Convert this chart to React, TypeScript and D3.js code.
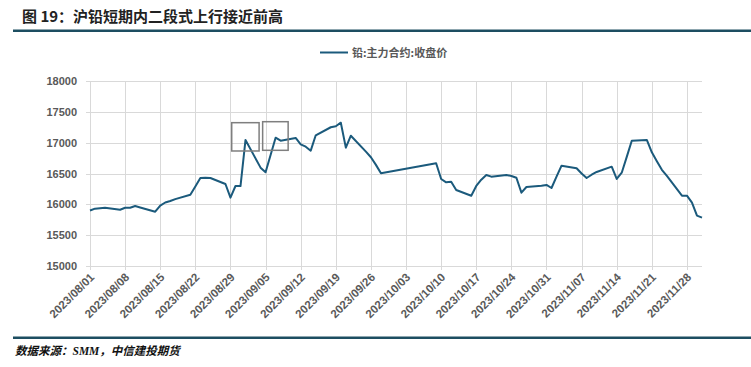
import * as d3 from "d3";
import { useEffect, useRef } from "react";

// 铅:主力合约:收盘价 (SMM), trading days only
const dates = [
  "2023-08-01", "2023-08-02", "2023-08-03", "2023-08-04", "2023-08-07", "2023-08-08", "2023-08-09",
  "2023-08-10", "2023-08-11", "2023-08-14", "2023-08-15", "2023-08-16", "2023-08-17", "2023-08-18",
  "2023-08-21", "2023-08-22", "2023-08-23", "2023-08-24", "2023-08-25", "2023-08-28", "2023-08-29",
  "2023-08-30", "2023-08-31", "2023-09-01", "2023-09-04", "2023-09-05", "2023-09-06", "2023-09-07",
  "2023-09-08", "2023-09-11", "2023-09-12", "2023-09-13", "2023-09-14", "2023-09-15", "2023-09-18",
  "2023-09-19", "2023-09-20", "2023-09-21", "2023-09-22", "2023-09-25", "2023-09-26", "2023-09-27",
  "2023-09-28", "2023-10-09", "2023-10-10", "2023-10-11", "2023-10-12", "2023-10-13", "2023-10-16",
  "2023-10-17", "2023-10-18", "2023-10-19", "2023-10-20", "2023-10-23", "2023-10-24", "2023-10-25",
  "2023-10-26", "2023-10-27", "2023-10-30", "2023-10-31", "2023-11-01", "2023-11-02", "2023-11-03",
  "2023-11-06", "2023-11-07", "2023-11-08", "2023-11-09", "2023-11-10", "2023-11-13", "2023-11-14",
  "2023-11-15", "2023-11-16", "2023-11-17", "2023-11-20", "2023-11-21", "2023-11-22", "2023-11-23",
  "2023-11-24", "2023-11-27", "2023-11-28", "2023-11-29", "2023-11-30", "2023-12-01",
];

const closePrices = [
  15900, 15930, 15938, 15945, 15913, 15945, 15945,
  15973, 15950, 15880, 15980, 16030, 16054, 16085,
  16156, 16290, 16427, 16430, 16427, 16330, 16108,
  16297, 16297, 17044, 16595, 16520, 16800, 17081,
  17032, 17076, 16973, 16935, 16870, 17120, 17250,
  17266, 17324, 16919, 17113, 16854, 16763, 16640,
  16503, 16666, 16411, 16357, 16367, 16233, 16140,
  16298, 16400, 16476, 16449, 16476, 16460, 16432,
  16189, 16281, 16300, 16314, 16265, 16450, 16627,
  16585, 16500, 16427, 16480, 16525, 16611, 16411,
  16513, 16770, 17032, 17044, 16844, 16700, 16560,
  16460, 16140, 16140, 16027, 15816, 15784,
];

const tickLabels = [
  "2023/08/01", "2023/08/08", "2023/08/15", "2023/08/22", "2023/08/29", "2023/09/05",
  "2023/09/12", "2023/09/19", "2023/09/26", "2023/10/03", "2023/10/10", "2023/10/17",
  "2023/10/24", "2023/10/31", "2023/11/07", "2023/11/14", "2023/11/21", "2023/11/28",
];

const yTicks = [15000, 15500, 16000, 16500, 17000, 17500, 18000];

// highlight boxes: [start date, end date, low, high]
const boxes: [string, string, number, number][] = [
  ["2023-08-29T06:00", "2023-09-03T17:00", 16865, 17324],
  ["2023-09-04T10:00", "2023-09-09T12:00", 16876, 17340],
];

const seriesName = "铅:主力合约:收盘价";
const title = "图 19：沪铅短期内二段式上行接近前高";
const source = "数据来源：SMM，中信建投期货";

const W = 751;
const H = 367;
const lineColor = "#1b5a7c";
const barColor = "#1d4e61";
const textColor = "#595959";
const numFont = "'Liberation Sans', Arial, sans-serif";
const cjkFont = "'Noto Sans CJK SC', sans-serif";

export default function App() {
  const ref = useRef<SVGSVGElement>(null);

  useEffect(() => {
    const svg = d3.select(ref.current);
    svg.selectAll("*").remove();

    const parse = d3.timeParse("%Y-%m-%d");
    const parseT = d3.timeParse("%Y-%m-%dT%H:%M");
    const parseTick = d3.timeParse("%Y/%m/%d");
    const data = dates.map((d, i) => ({ date: parse(d) as Date, value: closePrices[i] }));

    const x = d3
      .scaleTime()
      .domain([parse("2023-08-01") as Date, parse("2023-12-01") as Date])
      .range([90, 702]);
    const y = d3.scaleLinear().domain([15000, 18000]).range([266, 81]);

    // header
    svg
      .append("text")
      .attr("x", 22)
      .attr("y", 21.5)
      .attr("font-family", cjkFont)
      .attr("font-weight", "bold")
      .attr("font-size", 15)
      .attr("fill", "#222")
      .text(title);
    svg.append("rect").attr("x", 13).attr("y", 29.5).attr("width", W - 13).attr("height", 2.5).attr("fill", barColor);

    // grid
    const g = svg.append("g");
    g.selectAll(".hgrid")
      .data(yTicks)
      .enter()
      .append("line")
      .attr("x1", 90)
      .attr("x2", 702)
      .attr("y1", (d) => Math.round(y(d)) + 0.5)
      .attr("y2", (d) => Math.round(y(d)) + 0.5)
      .attr("stroke", "#d9d9d9");
    g.selectAll(".ytick")
      .data(yTicks)
      .enter()
      .append("line")
      .attr("x1", 86)
      .attr("x2", 90)
      .attr("y1", (d) => Math.round(y(d)) + 0.5)
      .attr("y2", (d) => Math.round(y(d)) + 0.5)
      .attr("stroke", "#d9d9d9");

    const tickDates = tickLabels.map((t) => parseTick(t) as Date);
    g.selectAll(".vgrid")
      .data(tickDates)
      .enter()
      .append("line")
      .attr("x1", (d) => Math.round(x(d)) + 0.5)
      .attr("x2", (d) => Math.round(x(d)) + 0.5)
      .attr("y1", 81)
      .attr("y2", 270)
      .attr("stroke", "#d9d9d9");

    // y labels
    g.selectAll(".ylab")
      .data(yTicks)
      .enter()
      .append("text")
      .attr("x", 77)
      .attr("y", (d) => y(d) + 4)
      .attr("text-anchor", "end")
      .attr("font-family", numFont)
      .attr("font-weight", "bold")
      .attr("font-size", 11)
      .attr("fill", textColor)
      .text((d) => d);

    // x labels
    g.selectAll(".xlab")
      .data(tickLabels)
      .enter()
      .append("text")
      .attr("transform", (d, i) => `translate(${x(tickDates[i]) + 5},${278}) rotate(-45)`)
      .attr("text-anchor", "end")
      .attr("font-family", numFont)
      .attr("font-weight", "bold")
      .attr("font-size", 11.5)
      .attr("fill", textColor)
      .text((d) => d);

    // series
    const line = d3
      .line<{ date: Date; value: number }>()
      .x((d) => x(d.date))
      .y((d) => y(d.value));
    svg
      .append("path")
      .datum(data)
      .attr("d", line)
      .attr("fill", "none")
      .attr("stroke", lineColor)
      .attr("stroke-width", 2)
      .attr("stroke-linejoin", "round");

    // highlight boxes
    svg
      .selectAll(".hbox")
      .data(boxes)
      .enter()
      .append("rect")
      .attr("x", (d) => x(parseT(d[0]) as Date))
      .attr("y", (d) => y(d[3]))
      .attr("width", (d) => x(parseT(d[1]) as Date) - x(parseT(d[0]) as Date))
      .attr("height", (d) => y(d[2]) - y(d[3]))
      .attr("fill", "none")
      .attr("stroke", "#7f7f7f")
      .attr("stroke-width", 1.5);

    // legend
    svg.append("line").attr("x1", 320).attr("x2", 348).attr("y1", 52.5).attr("y2", 52.5).attr("stroke", lineColor).attr("stroke-width", 2);
    svg
      .append("text")
      .attr("x", 352)
      .attr("y", 56.5)
      .attr("font-family", cjkFont)
      .attr("font-weight", "bold")
      .attr("font-size", 11)
      .attr("fill", textColor)
      .text(seriesName);

    // footer
    svg.append("rect").attr("x", 13).attr("y", 336.5).attr("width", W - 13).attr("height", 2.5).attr("fill", barColor);
    svg
      .append("text")
      .attr("x", 15)
      .attr("y", 355)
      .attr("font-family", "'Liberation Serif', 'Noto Sans CJK SC', serif")
      .attr("font-weight", "bold")
      .attr("font-style", "italic")
      .attr("font-size", 11.5)
      .attr("fill", "#111")
      .text(source);
  }, []);

  return (
    <div style={{ position: "absolute", left: 0, top: 0 }}>
      <svg ref={ref} width={W} height={H} style={{ display: "block", background: "#fff" }} />
    </div>
  );
}
